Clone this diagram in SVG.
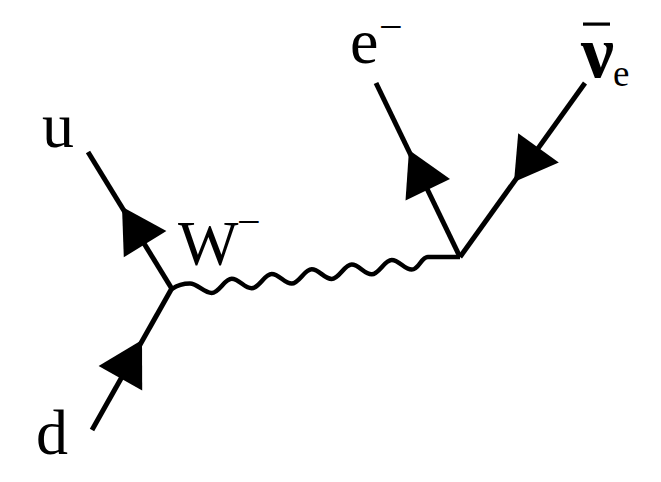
<svg xmlns="http://www.w3.org/2000/svg" width="661" height="482" viewBox="0 0 661 482">
<style>
.fermion{stroke:#000;stroke-width:5;fill:none;stroke-linecap:butt}
.boson{stroke:#000;stroke-width:4.5;fill:none;stroke-linejoin:round}
.arrow{fill:#000;stroke:none}
</style>
<rect width="661" height="482" fill="#fff"/>
<g id="connectors">
  <line class="fermion" x1="88" y1="152" x2="172" y2="289"/>
  <line class="fermion" x1="92" y1="430" x2="172" y2="288"/>
  <line class="fermion" x1="376" y1="83" x2="460" y2="257"/>
  <line class="fermion" x1="585" y1="83" x2="460" y2="257"/>
  <path class="boson" d="M172,289 C177,285.5 183,283.5 190,283.5 S204.4,293 211.7,293 S224.4,278.8 231.7,278.8 S244.4,288.3 251.7,288.3 S264.4,274 271.7,274 S284.4,283.6 291.7,283.6 S304.4,269.3 311.7,269.3 S324.4,279 331.7,279 S344.4,264.6 351.7,264.6 S364.4,274.3 371.7,274.3 S384.4,260 391.7,260 S404.4,269.6 411.7,269.6 S421,257 428,257 L460,257"/>
  <polygon class="arrow" points="122,206.7 166.4,231.1 123.8,257.3"/>
  <polygon class="arrow" points="142,340 142.2,390.6 98.6,366"/>
  <polygon class="arrow" points="409,150 450,179 405.5,200.5"/>
  <polygon class="arrow" points="514,182 558.8,162.5 518.2,133.3"/>
</g>
<g id="labels" font-family="Liberation Serif" font-size="64" fill="#000">
<g id="node-u"><text x="42" y="147">u</text></g>
<g id="node-d"><text x="36" y="454">d</text></g>
<g id="node-W"><text x="178" y="265">W<tspan font-size="42" x="237" y="236">−</tspan></text></g>
<g id="node-e"><text x="350" y="63">e<tspan font-size="42" x="379" y="41">−</tspan></text></g>
<g id="node-nu">
  <rect x="583" y="22.5" width="27" height="3.2" fill="#000"/>
  <text x="581" y="77" font-weight="bold" font-size="74">ν</text>
  <text x="613" y="86" font-size="37">e</text>
</g>
</g>
</svg>
